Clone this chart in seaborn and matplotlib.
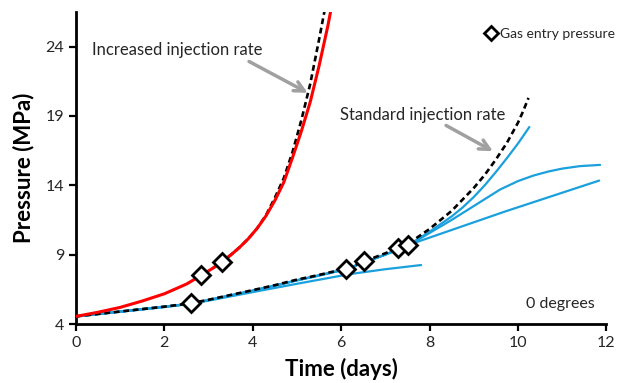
import matplotlib
matplotlib.use("Agg")
import matplotlib.pyplot as plt
import seaborn as sns
import pandas as pd

# ---- data ----
red_t = [0.0, 0.5, 1.0, 1.5, 2.0, 2.5, 2.83, 3.1, 3.31, 3.5, 3.7, 3.9, 4.1, 4.3, 4.5, 4.7, 4.9, 5.1, 5.3, 5.5, 5.7, 5.76]
red_p = [4.55, 4.85, 5.2, 5.66, 6.18, 6.88, 7.5, 8.03, 8.5, 8.97, 9.52, 10.15, 10.9, 11.8, 12.9, 14.2, 16.0, 17.9, 20.0, 22.6, 25.5, 26.5]

inc_dash_t = [3.1, 3.31, 3.5, 3.7, 3.9, 4.1, 4.3, 4.5, 4.7, 4.9, 5.1, 5.3, 5.5, 5.62]
inc_dash_p = [8.03, 8.5, 8.97, 9.52, 10.15, 10.9, 11.85, 13.1, 14.5, 16.4, 18.7, 21.3, 24.5, 26.5]

std_dash_t = [0.0, 1.0, 2.0, 2.61, 3.0, 3.94, 4.5, 5.0, 5.45, 6.11, 6.51, 7.0, 7.5, 8.0, 8.5, 9.0, 9.25, 9.5, 9.75, 10.0, 10.12, 10.24]
std_dash_p = [4.55, 4.9, 5.25, 5.5, 5.75, 6.4, 6.8, 7.2, 7.5, 8.0, 8.5, 9.1, 9.75, 10.85, 12.15, 13.8, 14.75, 15.85, 17.05, 18.5, 19.35, 20.3]

blue_a_t = [0.0, 1.0, 2.0, 2.61, 3.0, 3.94, 4.5, 5.0, 5.45, 6.11, 6.51, 7.0, 7.5, 8.0, 8.5, 8.75, 9.0, 9.25, 9.5, 9.75, 10.0, 10.26]
blue_a_p = [4.55, 4.88, 5.22, 5.47, 5.72, 6.36, 6.75, 7.15, 7.45, 7.95, 8.45, 9.0, 9.65, 10.65, 11.75, 12.4, 13.15, 14.0, 14.95, 15.95, 17.0, 18.2]

blue_b_t = [0.0, 2.61, 3.94, 5.0, 6.11, 7.0, 7.6, 8.1, 8.5, 8.9, 9.3, 9.6, 10.0, 10.35, 10.7, 11.0, 11.4, 11.86]
blue_b_p = [4.55, 5.47, 6.36, 7.15, 7.95, 9.0, 9.8, 10.75, 11.5, 12.3, 13.1, 13.7, 14.3, 14.7, 15.0, 15.2, 15.38, 15.47]

blue_c_t = [0.0, 2.61, 3.94, 5.0, 6.11, 7.0, 7.64, 9.7, 11.84]
blue_c_p = [4.55, 5.47, 6.36, 7.15, 7.95, 9.0, 9.83, 12.1, 14.34]

blue_d_t = [0.0, 2.61, 4.0, 5.0, 6.2, 7.0, 7.81]
blue_d_p = [4.55, 5.45, 6.3, 6.9, 7.6, 7.95, 8.25]

gas_t = [2.61, 6.11, 6.51, 7.28, 7.51, 2.83, 3.31]
gas_p = [5.5, 7.98, 8.53, 9.47, 9.73, 7.5, 8.5]

x_ticks = [0, 2, 4, 6, 8, 10, 12]
y_ticks = [4, 9, 14, 19, 24]

# ---- style ----
sns.set_style("ticks")
plt.rcParams['font.family'] = ['Lato', 'DejaVu Sans']
text_col = '#262626'

fig = plt.figure(figsize=(6.18, 3.83), dpi=100)
ax = fig.add_axes([0.123, 0.154, 0.858, 0.815])

blue = '#1AA0DD'
for t, p in [(blue_d_t, blue_d_p), (blue_c_t, blue_c_p), (blue_b_t, blue_b_p), (blue_a_t, blue_a_p)]:
    sns.lineplot(x=t, y=p, ax=ax, color=blue, lw=1.6, sort=False, estimator=None, zorder=2)

sns.lineplot(x=std_dash_t, y=std_dash_p, ax=ax, color='black', lw=1.9, sort=False,
             estimator=None, zorder=3, linestyle=(0, (2.2, 1.4)))
sns.lineplot(x=inc_dash_t, y=inc_dash_p, ax=ax, color='black', lw=1.9, sort=False,
             estimator=None, zorder=3, linestyle=(0, (2.2, 1.4)))
sns.lineplot(x=red_t, y=red_p, ax=ax, color='#FF0000', lw=2.2, sort=False, estimator=None, zorder=4)

ax.plot(gas_t, gas_p, linestyle='none', marker='D', markersize=9, markerfacecolor='white',
        markeredgecolor='black', markeredgewidth=2.0, zorder=6, label='Gas entry pressure')

ax.set_xlim(0, 12)
ax.set_ylim(4, 26.5)
ax.set_xticks(x_ticks)
ax.set_yticks(y_ticks)
ax.tick_params(axis='both', labelsize=11.5, labelcolor=text_col, length=5, width=1.6,
               direction='out', color='black')
for s in ['left', 'bottom']:
    ax.spines[s].set_linewidth(2)
    ax.spines[s].set_color('black')
sns.despine(ax=ax)

ax.set_xlabel('Time (days)', fontsize=16, fontweight='bold', color='black', labelpad=6)
ax.set_ylabel('Pressure (MPa)', fontsize=16, fontweight='bold', color='black', labelpad=8)

arrow_col = '#A0A0A0'
ax.annotate('Increased injection rate', xy=(5.30, 20.57), xytext=(0.36, 23.76),
            fontsize=12, color=text_col, ha='left', va='center')
ax.annotate('', xy=(5.30, 20.57), xytext=(3.86, 23.02),
            arrowprops=dict(arrowstyle='->', color=arrow_col, lw=2.5, mutation_scale=18))
ax.annotate('Standard injection rate', xy=(9.49, 16.36), xytext=(5.98, 19.06),
            fontsize=12, color=text_col, ha='left', va='center')
ax.annotate('', xy=(9.49, 16.36), xytext=(8.32, 18.41),
            arrowprops=dict(arrowstyle='->', color=arrow_col, lw=2.5, mutation_scale=18))
ax.text(11.75, 5.44, '0 degrees', fontsize=11.5, color=text_col, ha='right', va='center')

leg = ax.legend(loc='center left', bbox_to_anchor=(0.762, 0.93), frameon=False,
                handlelength=0.8, handletextpad=0.2, borderaxespad=0, fontsize=10,
                markerscale=0.75)
for txt in leg.get_texts():
    txt.set_color(text_col)

fig.savefig('out.png', dpi=100)
